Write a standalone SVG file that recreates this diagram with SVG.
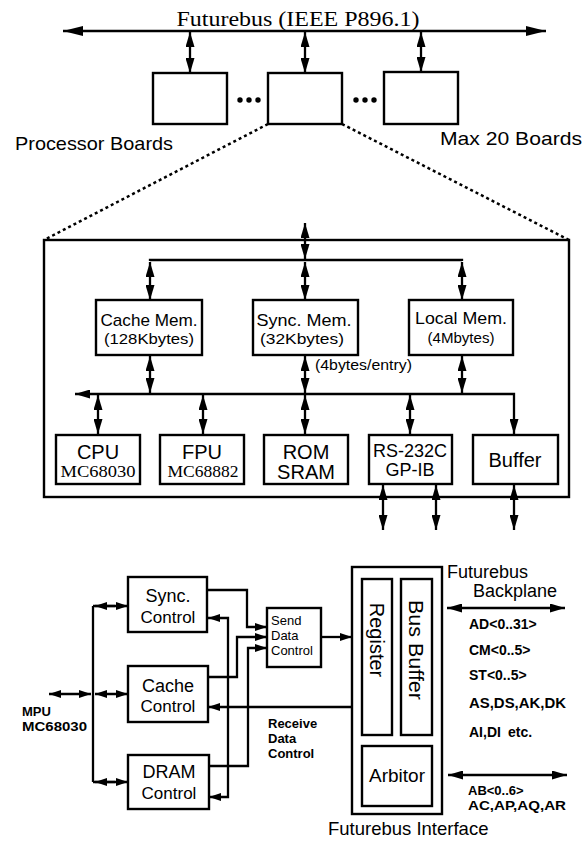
<svg xmlns="http://www.w3.org/2000/svg" width="584" height="843" viewBox="0 0 584 843">
<defs>
<style>
.bx{fill:none;stroke:#000;stroke-width:2.4}
.ln{fill:none;stroke:#000;stroke-width:2.3}
.dl{fill:none;stroke:#000;stroke-width:2.5;stroke-dasharray:3 3}
text{font-family:"Liberation Sans",Arial,sans-serif;fill:#000}
.sf{font-family:"Liberation Serif","Times New Roman",serif}
.m{text-anchor:middle}
.b{font-weight:bold}
</style>
<marker id="aL" viewBox="0 0 20 10" refX="20" refY="5" markerWidth="20" markerHeight="10" orient="auto-start-reverse" markerUnits="userSpaceOnUse"><path d="M0,0 L20,5 L0,10 z"/></marker>
<marker id="a" viewBox="0 0 15 9" refX="15" refY="4.5" markerWidth="15" markerHeight="9" orient="auto-start-reverse" markerUnits="userSpaceOnUse"><path d="M0,0 L15,4.5 L0,9 z"/></marker>
<marker id="s" viewBox="0 0 12 8" refX="12" refY="4" markerWidth="12" markerHeight="8" orient="auto-start-reverse" markerUnits="userSpaceOnUse"><path d="M0,0 L12,4 L0,8 z"/></marker>
</defs>
<rect width="584" height="843" fill="#fff"/>

<!-- Top: Futurebus and processor boards -->
<g id="futurebus-label"><text class="sf m" x="298" y="26" font-size="22" textLength="243" lengthAdjust="spacingAndGlyphs">Futurebus (IEEE P896.1)</text></g>
<g id="board1"><rect class="bx" x="153" y="73" width="74" height="51"/></g>
<g id="board2"><rect class="bx" x="268" y="73" width="74" height="51"/></g>
<g id="board3"><rect class="bx" x="384" y="72" width="74" height="52"/></g>
<g id="ellipses">
<circle cx="240" cy="100" r="2.7"/><circle cx="249" cy="100" r="2.7"/><circle cx="258" cy="100" r="2.7"/>
<circle cx="356" cy="100" r="2.7"/><circle cx="365" cy="100" r="2.7"/><circle cx="374" cy="100" r="2.7"/>
</g>
<g id="labels-top">
<text x="15" y="150" font-size="19" textLength="158" lengthAdjust="spacingAndGlyphs">Processor Boards</text>
<text x="440" y="145" font-size="19" textLength="142" lengthAdjust="spacingAndGlyphs">Max 20 Boards</text>
</g>

<!-- Processor board detail -->
<g id="board-detail"><rect class="bx" x="44" y="240" width="525" height="257"/></g>
<g id="cache-mem"><rect class="bx" x="96" y="300" width="106" height="55"/>
<text class="m" x="149" y="326" font-size="17" textLength="97" lengthAdjust="spacingAndGlyphs">Cache Mem.</text>
<text class="m" x="149" y="344" font-size="14.5" textLength="90" lengthAdjust="spacingAndGlyphs">(128Kbytes)</text></g>
<g id="sync-mem"><rect class="bx" x="253" y="300" width="105" height="55"/>
<text class="m" x="304" y="326" font-size="17" textLength="95" lengthAdjust="spacingAndGlyphs">Sync. Mem.</text>
<text class="m" x="302" y="344" font-size="14.5" textLength="84" lengthAdjust="spacingAndGlyphs">(32Kbytes)</text></g>
<g id="local-mem"><rect class="bx" x="409" y="300" width="104" height="55"/>
<text class="m" x="461" y="324" font-size="17" textLength="92" lengthAdjust="spacingAndGlyphs">Local Mem.</text>
<text class="m" x="461" y="343" font-size="14.5" textLength="67" lengthAdjust="spacingAndGlyphs">(4Mbytes)</text></g>
<g id="entry-label"><text x="315" y="370" font-size="14.5" textLength="97" lengthAdjust="spacingAndGlyphs">(4bytes/entry)</text></g>
<g id="cpu"><rect class="bx" x="56" y="435" width="84" height="49"/>
<text class="m" x="98" y="459" font-size="20">CPU</text>
<text class="sf m" x="98" y="477" font-size="17" textLength="75" lengthAdjust="spacingAndGlyphs">MC68030</text></g>
<g id="fpu"><rect class="bx" x="160" y="435" width="84" height="49"/>
<text class="m" x="202" y="459" font-size="20">FPU</text>
<text class="sf m" x="203" y="477" font-size="17" textLength="71" lengthAdjust="spacingAndGlyphs">MC68882</text></g>
<g id="rom"><rect class="bx" x="264" y="435" width="84" height="49"/>
<text class="m" x="306" y="459" font-size="20">ROM</text>
<text class="m" x="306" y="479" font-size="20">SRAM</text></g>
<g id="rs232"><rect class="bx" x="369" y="435" width="83" height="49"/>
<text class="m" x="410" y="457" font-size="18" textLength="74" lengthAdjust="spacingAndGlyphs">RS-232C</text>
<text class="m" x="410" y="476" font-size="18">GP-IB</text></g>
<g id="buffer"><rect class="bx" x="473" y="435" width="85" height="49"/>
<text class="m" x="515" y="467" font-size="20">Buffer</text></g>

<!-- Futurebus interface -->
<g id="sync-control"><rect class="bx" x="128" y="577" width="79" height="55"/>
<text class="m" x="168" y="602" font-size="18">Sync.</text>
<text class="m" x="168" y="623" font-size="17">Control</text></g>
<g id="cache-control"><rect class="bx" x="128" y="666" width="80" height="56"/>
<text class="m" x="168" y="692" font-size="18">Cache</text>
<text class="m" x="168" y="712" font-size="17">Control</text></g>
<g id="dram-control"><rect class="bx" x="128" y="755" width="81" height="54"/>
<text class="m" x="169" y="778" font-size="18">DRAM</text>
<text class="m" x="169" y="799" font-size="17">Control</text></g>
<g id="send-data-control"><rect class="bx" x="267" y="608" width="54" height="59"/>
<text x="271" y="625" font-size="13">Send</text>
<text x="271" y="640" font-size="13">Data</text>
<text x="271" y="655" font-size="13">Control</text></g>
<g id="futurebus-interface"><rect class="bx" x="352" y="567" width="90" height="247"/>
<text x="328" y="835" font-size="18.5">Futurebus Interface</text></g>
<g id="register"><rect class="bx" x="362" y="579" width="30" height="156"/>
<text class="m" transform="translate(377,640) rotate(90)" x="0" y="7" font-size="20">Register</text></g>
<g id="bus-buffer"><rect class="bx" x="401" y="579" width="31" height="156"/>
<text class="m" transform="translate(416,650) rotate(90)" x="0" y="7" font-size="20" textLength="100" lengthAdjust="spacingAndGlyphs">Bus Buffer</text></g>
<g id="arbitor"><rect class="bx" x="362" y="746" width="70" height="60"/>
<text class="m" x="397" y="782" font-size="19">Arbitor</text></g>
<g id="labels-bottom">
<text class="b" x="22" y="716" font-size="13">MPU</text>
<text class="b" x="22" y="731" font-size="13" textLength="65" lengthAdjust="spacingAndGlyphs">MC68030</text>
<text class="b" x="268" y="728" font-size="13">Receive</text>
<text class="b" x="268" y="743" font-size="13">Data</text>
<text class="b" x="268" y="758" font-size="13">Control</text>
<text x="447" y="578" font-size="18">Futurebus</text>
<text x="473" y="597" font-size="18">Backplane</text>
<text class="b" x="469" y="629" font-size="14">AD&lt;0..31&gt;</text>
<text class="b" x="469" y="655" font-size="14">CM&lt;0..5&gt;</text>
<text class="b" x="469" y="680" font-size="14">ST&lt;0..5&gt;</text>
<text class="b" x="469" y="708" font-size="14" textLength="97" lengthAdjust="spacingAndGlyphs">AS,DS,AK,DK</text>
<text class="b" x="469" y="737" font-size="14">AI,DI<tspan x="508">etc.</tspan></text>
<text class="b" x="468" y="795" font-size="13">AB&lt;0..6&gt;</text>
<text class="b" x="468" y="810" font-size="13" textLength="98" lengthAdjust="spacingAndGlyphs">AC,AP,AQ,AR</text>
</g>

<g id="connectors">
<!-- top -->
<path class="ln" d="M63,31 H546" marker-start="url(#aL)" marker-end="url(#aL)"/>
<path class="ln" d="M190,32 V73" marker-start="url(#a)" marker-end="url(#a)"/>
<path class="ln" d="M305,32 V73" marker-start="url(#a)" marker-end="url(#a)"/>
<path class="ln" d="M421,32 V72" marker-start="url(#a)" marker-end="url(#a)"/>
<path class="dl" d="M268,124 L44,240"/>
<path class="dl" d="M342,124 L569,240"/>
<!-- board detail -->
<path class="ln" d="M305,223 V259" marker-start="url(#a)" marker-end="url(#a)"/>
<path class="ln" d="M150,261 V260 H462 V261"/>
<path class="ln" d="M150,262 V300" marker-start="url(#a)" marker-end="url(#a)"/>
<path class="ln" d="M305,262 V300" marker-start="url(#a)" marker-end="url(#a)"/>
<path class="ln" d="M462,262 V300" marker-start="url(#a)" marker-end="url(#a)"/>
<path class="ln" d="M150,356 V393" marker-start="url(#a)" marker-end="url(#a)"/>
<path class="ln" d="M305,356 V393" marker-start="url(#a)" marker-end="url(#a)"/>
<path class="ln" d="M462,356 V393" marker-start="url(#a)" marker-end="url(#a)"/>
<path class="ln" d="M75,394 H514 V434" marker-start="url(#a)" marker-end="url(#a)"/>
<path class="ln" d="M98,395 V434" marker-start="url(#a)" marker-end="url(#a)"/>
<path class="ln" d="M203,395 V434" marker-start="url(#a)" marker-end="url(#a)"/>
<path class="ln" d="M305,395 V434" marker-start="url(#a)" marker-end="url(#a)"/>
<path class="ln" d="M410,395 V434" marker-start="url(#a)" marker-end="url(#a)"/>
<path class="ln" d="M383,485 V530" marker-start="url(#a)" marker-end="url(#a)"/>
<path class="ln" d="M436,485 V530" marker-start="url(#a)" marker-end="url(#a)"/>
<path class="ln" d="M514,485 V530" marker-start="url(#a)" marker-end="url(#a)"/>
<!-- interface -->
<path class="ln" d="M49,694 H91" marker-start="url(#s)" marker-end="url(#s)"/>
<path class="ln" d="M93,606 V782"/>
<path class="ln" d="M93,606 H128" marker-end="url(#s)"/>
<path class="ln" d="M95,606 H115" marker-start="url(#s)"/>
<path class="ln" d="M95,694 H128" marker-start="url(#s)" marker-end="url(#s)"/>
<path class="ln" d="M93,782 H128" marker-end="url(#s)"/>
<path class="ln" d="M95,782 H115" marker-start="url(#s)"/>
<path class="ln" d="M207,590 H247 V627 H267" marker-end="url(#s)"/>
<path class="ln" d="M208,677 H237 V637 H267" marker-end="url(#s)"/>
<path class="ln" d="M209,766 H248 V648 H267" marker-end="url(#s)"/>
<path class="ln" d="M321,637 H352" marker-end="url(#s)"/>
<path class="ln" d="M352,707 H208" marker-end="url(#s)"/>
<path class="ln" d="M228,707 V618 H208" marker-end="url(#s)"/>
<path class="ln" d="M228,707 V797 H209" marker-end="url(#s)"/>
<path class="ln" d="M447,608 H565" marker-start="url(#a)" marker-end="url(#a)"/>
<path class="ln" d="M448,775 H567" marker-start="url(#a)" marker-end="url(#a)"/>
</g>
</svg>
